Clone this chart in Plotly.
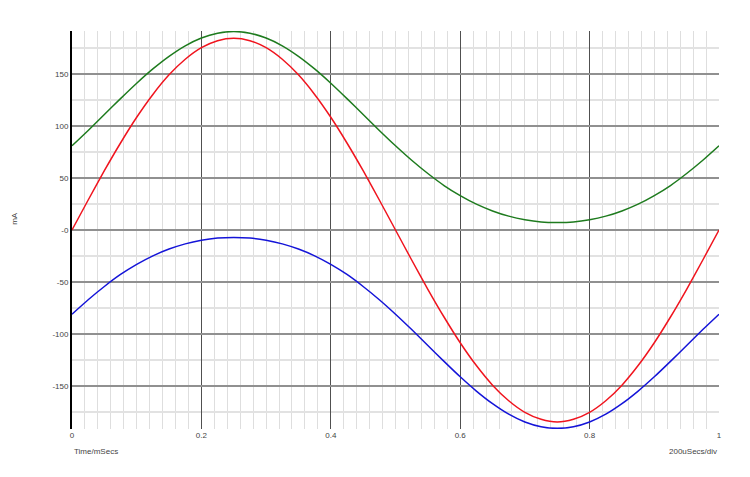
import plotly.graph_objects as go

# time in mSecs (sampled every 0.025)
time_ms = [round(i * 0.025, 3) for i in range(41)]

red_mA = [0.0, 28.8, 56.9, 83.5, 108.2, 130.1, 148.9, 163.9, 175.0, 181.7, 184.0,
          181.7, 175.0, 163.9, 148.9, 130.1, 108.2, 83.5, 56.9, 28.8, 0.0,
          -28.8, -56.9, -83.5, -108.2, -130.1, -148.9, -163.9, -175.0, -181.7, -184.3,
          -181.7, -175.0, -163.9, -148.9, -130.1, -108.2, -83.5, -56.9, -28.8, 0.0]

green_mA = [80.8, 95.5, 110.8, 126.1, 140.9, 154.6, 166.7, 176.8, 184.3, 188.9, 190.5,
            188.9, 184.3, 176.8, 166.7, 154.6, 140.9, 126.1, 110.8, 95.5, 80.8,
            66.9, 54.2, 42.7, 33.0, 24.8, 18.3, 13.3, 9.8, 7.7, 7.2,
            7.7, 9.8, 13.3, 18.3, 24.8, 33.0, 42.7, 54.2, 66.9, 80.8]

blue_mA = [-80.8, -66.9, -54.2, -42.7, -33.0, -24.8, -18.3, -13.3, -9.8, -7.7, -7.1,
           -7.7, -9.8, -13.3, -18.3, -24.8, -33.0, -42.7, -54.2, -66.9, -80.8,
           -95.5, -110.8, -126.1, -140.9, -154.6, -166.7, -176.8, -184.3, -188.9, -190.4,
           -188.9, -184.3, -176.8, -166.7, -154.6, -140.9, -126.1, -110.8, -95.5, -80.8]

x_tickvals = [0, 0.2, 0.4, 0.6, 0.8, 1]
x_ticktext = ["0", "0.2", "0.4", "0.6", "0.8", "1"]
y_tickvals = [-150, -100, -50, 0, 50, 100, 150]
y_ticktext = ["-150", "-100", "-50", "-0", "50", "100", "150"]

FONT = "Liberation Sans, Arial, sans-serif"
TXT = "#444444"

fig = go.Figure()
for ys, col in [(green_mA, "#1e7b1e"), (red_mA, "#f0141e"), (blue_mA, "#1414d8")]:
    fig.add_trace(go.Scatter(x=time_ms, y=ys, mode="lines",
                             line=dict(color=col, width=1.5, shape="spline", smoothing=0.6),
                             showlegend=False, hoverinfo="skip"))

fig.update_layout(
    width=742, height=469,
    margin=dict(l=64, r=31, t=23, b=48),
    paper_bgcolor="white", plot_bgcolor="white",
    font=dict(family=FONT, size=8, color=TXT),
    xaxis=dict(range=[0, 1], tickmode="array", tickvals=x_tickvals, ticktext=x_ticktext,
               showgrid=True, gridcolor="#505050", gridwidth=1,
               minor=dict(tickmode="linear", tick0=0, dtick=0.02, showgrid=True,
                          gridcolor="#dedede", gridwidth=1),
               zeroline=False, showline=False, ticks="",
               tickfont=dict(size=8, color=TXT)),
    yaxis=dict(range=[-191, 191], tickmode="array", tickvals=y_tickvals, ticktext=y_ticktext,
               showgrid=True, gridcolor="#909090", gridwidth=1.5,
               minor=dict(tickmode="linear", tick0=0, dtick=25, showgrid=True,
                          gridcolor="#e2e2e2", gridwidth=1.5),
               zeroline=False, showline=True, linecolor="#000000", linewidth=2,
               ticks="", tickfont=dict(size=8, color=TXT)),
    annotations=[
        dict(text="Time/mSecs", xref="paper", yref="paper", x=0, y=-0.057,
             xanchor="left", yanchor="middle", showarrow=False,
             font=dict(size=8, color=TXT, family=FONT)),
        dict(text="200uSecs/div", xref="paper", yref="paper", x=1.0, y=-0.057,
             xanchor="right", yanchor="middle", showarrow=False,
             font=dict(size=8, color=TXT, family=FONT)),
        dict(text="mA", xref="paper", yref="paper", x=-0.09, y=0.53,
             xanchor="center", yanchor="middle", showarrow=False, textangle=-90,
             font=dict(size=8, color=TXT, family=FONT)),
    ],
)

fig.write_html("out.html")
